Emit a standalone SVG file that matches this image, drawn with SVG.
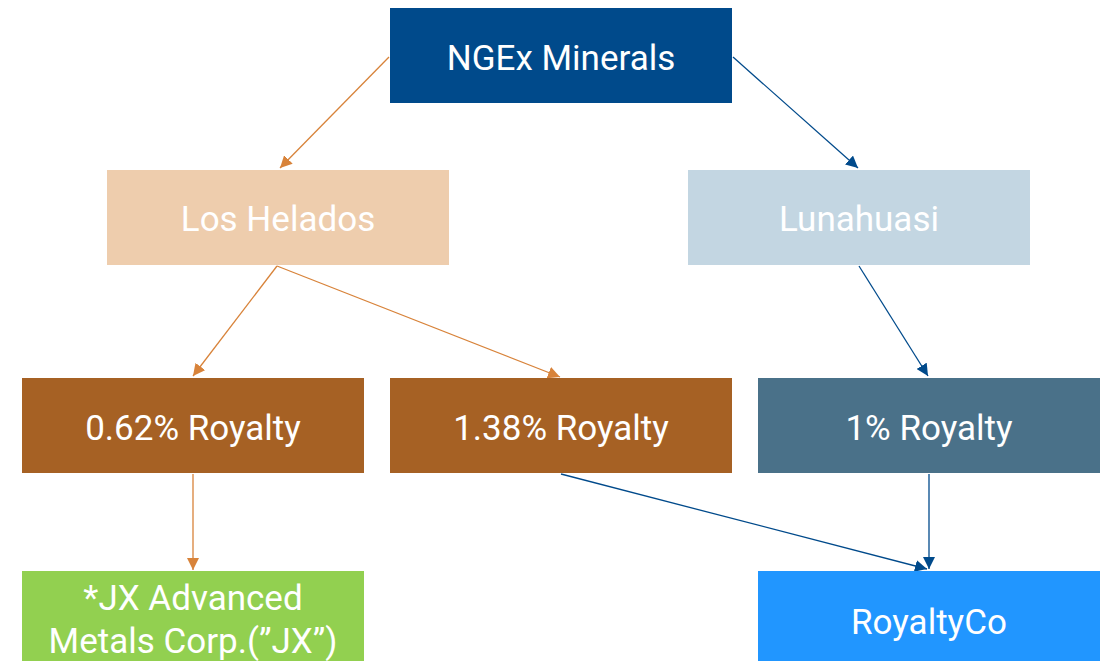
<svg xmlns="http://www.w3.org/2000/svg" width="1101" height="661" viewBox="0 0 1101 661">
<style>
.t{font-family:Roboto,"Liberation Sans",sans-serif;font-size:35px;fill:#fff;text-anchor:middle}
.o{stroke:#D8833A;stroke-width:1.3;fill:none}
.b{stroke:#004A8B;stroke-width:1.3;fill:none}
</style>
<defs>
<marker id="ao" viewBox="0 0 10 10" refX="10" refY="5" markerWidth="12" markerHeight="12" markerUnits="userSpaceOnUse" orient="auto"><path d="M0,0L10,5L0,10z" fill="#D8833A"/></marker>
<marker id="ab" viewBox="0 0 10 10" refX="10" refY="5" markerWidth="12" markerHeight="12" markerUnits="userSpaceOnUse" orient="auto"><path d="M0,0L10,5L0,10z" fill="#004A8B"/></marker>
</defs>
<rect width="1101" height="661" fill="#fff"/>
<g id="connectors">
<line class="o" x1="389" y1="57" x2="280" y2="168" marker-end="url(#ao)"/>
<line class="b" x1="733" y1="57" x2="858" y2="168" marker-end="url(#ab)"/>
<line class="o" x1="277" y1="266" x2="193" y2="376" marker-end="url(#ao)"/>
<line class="o" x1="277" y1="266" x2="560" y2="377" marker-end="url(#ao)"/>
<line class="b" x1="859" y1="266" x2="928" y2="376" marker-end="url(#ab)"/>
<line class="o" x1="193" y1="474" x2="193" y2="570" marker-end="url(#ao)"/>
<line class="b" x1="561" y1="474" x2="927" y2="569" marker-end="url(#ab)"/>
<line class="b" x1="929" y1="474" x2="929" y2="569" marker-end="url(#ab)"/>
</g>
<g id="ngex"><rect x="390" y="8" width="342" height="95" fill="#004A8B"/><text class="t" x="561" y="70">NGEx Minerals</text></g>
<g id="loshelados"><rect x="107" y="170" width="342" height="95" fill="#EECDAD"/><text class="t" x="278" y="231">Los Helados</text></g>
<g id="lunahuasi"><rect x="688" y="170" width="342" height="95" fill="#C3D6E2"/><text class="t" x="859" y="231">Lunahuasi</text></g>
<g id="r062"><rect x="22" y="378" width="342" height="95" fill="#A66124"/><text class="t" x="193" y="440">0.62% Royalty</text></g>
<g id="r138"><rect x="390" y="378" width="342" height="95" fill="#A66124"/><text class="t" x="561" y="440">1.38% Royalty</text></g>
<g id="r1"><rect x="758" y="378" width="342" height="95" fill="#4A7189"/><text class="t" x="929" y="440">1% Royalty</text></g>
<g id="jx"><rect x="22" y="571" width="342" height="95" fill="#92D050"/><text class="t" x="193" y="610">*JX Advanced</text><text class="t" x="193" y="653">Metals Corp.(”JX”)</text></g>
<g id="royaltyco"><rect x="758" y="571" width="342" height="95" fill="#2196FF"/><text class="t" x="929" y="634">RoyaltyCo</text></g>
</svg>
